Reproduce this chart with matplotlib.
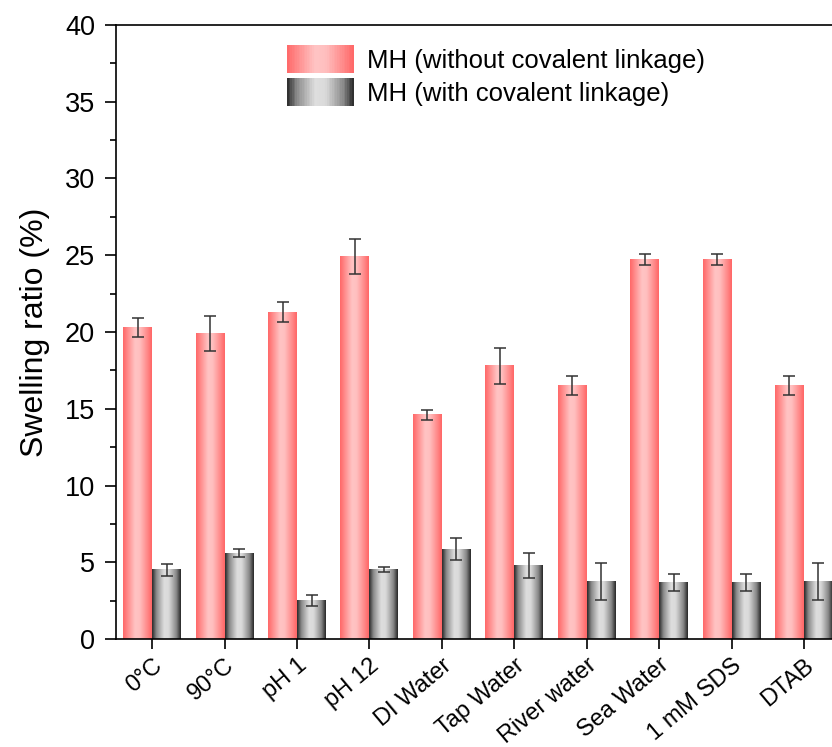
import numpy as np
import matplotlib
matplotlib.use("Agg")
import matplotlib.pyplot as plt
from matplotlib.colors import LinearSegmentedColormap
from matplotlib.legend_handler import HandlerBase
from matplotlib.patches import Rectangle
from matplotlib.transforms import ScaledTranslation

plt.rcParams['font.family'] = ['Liberation Sans', 'DejaVu Sans']

categories = ['0°C', '90°C', 'pH 1', 'pH 12', 'DI Water', 'Tap Water',
              'River water', 'Sea Water', '1 mM SDS', 'DTAB']
without_link = [20.3, 19.9, 21.3, 24.9, 14.6, 17.8, 16.5, 24.7, 24.7, 16.5]
without_err = [0.6, 1.15, 0.65, 1.15, 0.32, 1.17, 0.63, 0.35, 0.35, 0.63]
with_link = [4.5, 5.6, 2.5, 4.55, 5.85, 4.8, 3.75, 3.7, 3.7, 3.75]
with_err = [0.38, 0.27, 0.36, 0.17, 0.71, 0.8, 1.22, 0.55, 0.55, 1.22]
labels = ['MH (without covalent linkage)', 'MH (with covalent linkage)']

# cylinder-like shading used by the bars
pos = [0, 0.15, 0.42, 0.58, 0.85, 1]
pink = LinearSegmentedColormap.from_list(
    'pink', list(zip(pos, ['#ff6868', '#ff8a8a', '#ffc4c4', '#ffbfbf', '#ff8888', '#ff6666'])))
grey = LinearSegmentedColormap.from_list(
    'grey', list(zip(pos, ['#2a2a2a', '#8c8c8c', '#dedede', '#dadada', '#888888', '#282828'])))


class GradientHandler(HandlerBase):
    def __init__(self, cmap):
        super().__init__()
        self.cmap = cmap

    def create_artists(self, legend, orig_handle, xdescent, ydescent,
                       width, height, fontsize, trans):
        n = 40
        out = []
        for i in range(n):
            r = Rectangle((-xdescent + width * i / n, -ydescent), width / n * 1.1, height,
                          facecolor=self.cmap((i + 0.5) / n), edgecolor='none',
                          transform=trans)
            out.append(r)
        return out


fig = plt.figure(figsize=(8.32, 7.47), dpi=100)
ax = fig.add_axes([116 / 832, 108 / 747, 722 / 832, 614 / 747])

x = np.arange(len(categories))
w = 0.4

for vals, errs, off, cmap in [(without_link, without_err, -w / 2, pink),
                              (with_link, with_err, w / 2, grey)]:
    bars = ax.bar(x + off, vals, width=w, color='none', edgecolor='none')
    grad = np.linspace(0, 1, 64).reshape(1, -1)
    for b in bars:
        x0, y0 = b.get_x(), b.get_y()
        ax.imshow(grad, cmap=cmap, aspect='auto', interpolation='bicubic',
                  extent=[x0, x0 + b.get_width(), y0, y0 + b.get_height()], zorder=2)
    ax.errorbar(x + off, vals, yerr=errs, fmt='none', ecolor='#333333',
                elinewidth=1.1, capsize=4, capthick=1.1, zorder=3)

ax.set_xlim(-0.5, 9.47)
ax.set_ylim(0, 40)
ax.set_yticks(np.arange(0, 41, 5))
ax.set_yticks(np.arange(0, 40, 2.5), minor=True)
ax.set_xticks(x)
ax.set_xticklabels(categories, rotation=40, ha='right', va='top',
                   rotation_mode='anchor', fontsize=17)
for lab in ax.get_xticklabels():
    lab.set_transform(lab.get_transform() + ScaledTranslation(0.14, 0.03, fig.dpi_scale_trans))

for s in ax.spines.values():
    s.set_linewidth(1.2)
ax.tick_params(axis='y', which='major', direction='out', length=8, width=1.2,
               labelsize=19.5, pad=7)
ax.tick_params(axis='y', which='minor', direction='out', length=4, width=1.2)
ax.tick_params(axis='x', which='major', direction='out', length=7.5, width=1.2)
ax.set_ylabel('Swelling ratio (%)', fontsize=23, labelpad=11)

h1 = Rectangle((0, 0), 1, 1)
h2 = Rectangle((0, 0), 1, 1)
ax.legend([h1, h2], labels, handler_map={h1: GradientHandler(pink), h2: GradientHandler(grey)},
          loc='upper left', bbox_to_anchor=(0.2368, 0.9674), frameon=False,
          fontsize=18.5, borderpad=0, borderaxespad=0, handlelength=2.6,
          handleheight=1.3, handletextpad=0.5, labelspacing=0.2)

fig.savefig('out.png', dpi=100)
